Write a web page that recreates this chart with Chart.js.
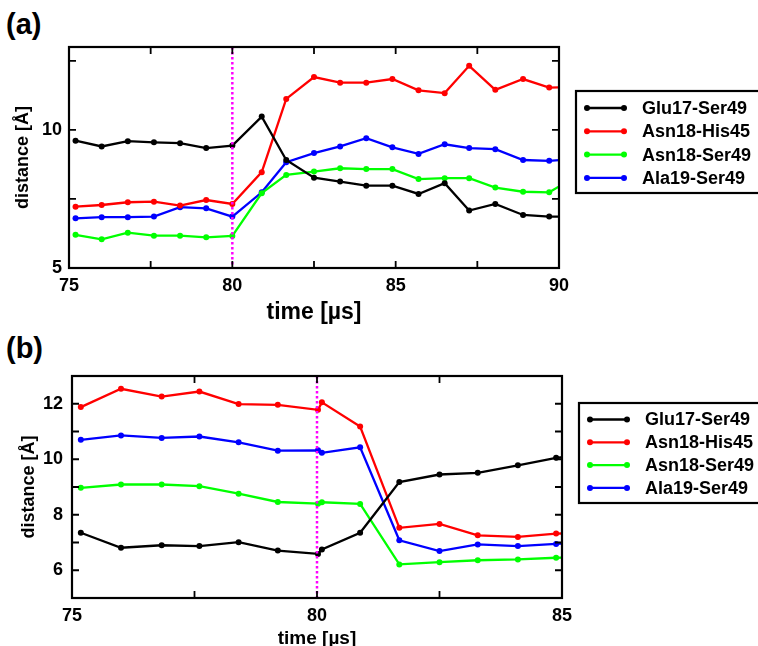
<!DOCTYPE html>
<html lang="en">
<head>
  <meta charset="UTF-8" />
  <title>Distance vs time</title>
  <style>
    html, body {
      margin: 0;
      padding: 0;
      background: white;
      overflow: hidden;
      width: 758px;
      height: 646px;
    }
    .panel {
      position: absolute;
      left: 0;
    }
    .tag {
      position: absolute;
      font-family: "Liberation Sans", Arial, sans-serif;
      font-weight: bold;
      font-size: 29px;
      color: #000;
    }
  </style>
  <script src="https://cdn.jsdelivr.net/npm/chart.js"></script>
</head>
<body>

<div class="tag" style="left:6px; top:8px;">(a)</div>
<div class="tag" style="left:6px; top:332px;">(b)</div>
<canvas id="chartA" class="panel" style="top:0px;" width="758" height="326"></canvas>
<canvas id="chartB" class="panel" style="top:326px;" width="758" height="326"></canvas>

<script>
  // panel (a)
  const timeA = [75.2, 76.0, 76.8, 77.6, 78.4, 79.2, 80.0, 80.9, 81.65, 82.5, 83.3, 84.1, 84.9, 85.7, 86.5, 87.25, 88.05, 88.9, 89.7, 90.5];
  const glu17Ser49A = [9.61, 9.40, 9.59, 9.55, 9.52, 9.34, 9.43, 10.48, 8.91, 8.27, 8.13, 7.98, 7.98, 7.68, 8.07, 7.08, 7.32, 6.92, 6.86, 6.85];
  const asn18His45A = [7.22, 7.28, 7.38, 7.40, 7.26, 7.46, 7.32, 8.47, 11.12, 11.91, 11.71, 11.71, 11.84, 11.43, 11.33, 12.32, 11.45, 11.84, 11.53, 11.55];
  const asn18Ser49A = [6.20, 6.04, 6.28, 6.17, 6.17, 6.11, 6.16, 7.71, 8.37, 8.49, 8.61, 8.58, 8.58, 8.22, 8.25, 8.25, 7.91, 7.76, 7.74, 8.30];
  const ala19Ser49A = [6.80, 6.84, 6.84, 6.86, 7.20, 7.16, 6.86, 7.74, 8.83, 9.16, 9.40, 9.70, 9.37, 9.13, 9.48, 9.34, 9.30, 8.91, 8.88, 8.95];

  // panel (b)
  const timeB = [75.18, 76.0, 76.83, 77.6, 78.4, 79.2, 80.02, 80.1, 80.88, 81.68, 82.5, 83.28, 84.1, 84.88, 85.7];
  const glu17Ser49B = [7.35, 6.81, 6.90, 6.87, 7.01, 6.71, 6.59, 6.75, 7.35, 9.18, 9.45, 9.51, 9.78, 10.05, 10.2];
  const asn18His45B = [11.88, 12.54, 12.26, 12.44, 11.99, 11.96, 11.78, 12.05, 11.18, 7.53, 7.67, 7.26, 7.20, 7.32, 7.35];
  const asn18Ser49B = [8.97, 9.09, 9.09, 9.03, 8.76, 8.46, 8.40, 8.45, 8.39, 6.21, 6.29, 6.36, 6.39, 6.45, 6.5];
  const ala19Ser49B = [10.70, 10.86, 10.77, 10.82, 10.61, 10.31, 10.32, 10.23, 10.43, 7.08, 6.69, 6.93, 6.87, 6.95, 7.0];

  const seriesNames = ['Glu17-Ser49', 'Asn18-His45', 'Asn18-Ser49', 'Ala19-Ser49'];
  const seriesColors = ['#000000', '#ff0000', '#00ff00', '#0000ff'];
  const markerTime = 80;

  Chart.defaults.font.family = '"Liberation Sans", Arial, sans-serif';
  Chart.defaults.font.weight = 'bold';
  Chart.defaults.color = '#000';

  function makeDatasets(times, lists) {
    return lists.map((vals, i) => ({
      label: seriesNames[i],
      data: vals.map((v, j) => ({ x: times[j], y: v })),
      borderColor: seriesColors[i],
      backgroundColor: seriesColors[i],
      borderWidth: 2.3,
      pointRadius: 3,
      pointBorderWidth: 0,
      tension: 0
    }));
  }

  // frame with inward ticks on all four sides
  const frameTicks = {
    id: 'frameTicks',
    afterDraw(chart) {
      const { ctx, chartArea: a, scales: { x, y } } = chart;
      const len = 7;
      ctx.save();
      ctx.strokeStyle = '#000';
      ctx.lineWidth = 1.8;
      x.ticks.forEach(t => {
        const px = x.getPixelForValue(t.value);
        if (px <= a.left + 1 || px >= a.right - 1) return;
        ctx.beginPath();
        ctx.moveTo(px, a.bottom); ctx.lineTo(px, a.bottom - len);
        ctx.moveTo(px, a.top); ctx.lineTo(px, a.top + len);
        ctx.stroke();
      });
      y.ticks.forEach(t => {
        const py = y.getPixelForValue(t.value);
        if (py <= a.top + 1 || py >= a.bottom - 1) return;
        ctx.beginPath();
        ctx.moveTo(a.left, py); ctx.lineTo(a.left + len, py);
        ctx.moveTo(a.right, py); ctx.lineTo(a.right - len, py);
        ctx.stroke();
      });
      ctx.lineWidth = 2.2;
      ctx.strokeRect(a.left, a.top, a.width, a.height);
      ctx.restore();
    }
  };

  // dotted magenta marker line
  const markerLine = {
    id: 'markerLine',
    afterDatasetsDraw(chart) {
      const { ctx, chartArea: a, scales: { x } } = chart;
      const px = x.getPixelForValue(markerTime);
      ctx.save();
      ctx.strokeStyle = '#ff00ff';
      ctx.lineWidth = 2.5;
      ctx.setLineDash([2.5, 2.5]);
      ctx.beginPath();
      ctx.moveTo(px, a.top);
      ctx.lineTo(px, a.bottom);
      ctx.stroke();
      ctx.restore();
    }
  };

  // boxed legend outside the plot
  const boxLegend = {
    id: 'boxLegend',
    afterDraw(chart, args, opts) {
      const ctx = chart.ctx;
      ctx.save();
      ctx.strokeStyle = '#000';
      ctx.lineWidth = 2.2;
      ctx.strokeRect(opts.left, opts.top, opts.width, opts.height);
      ctx.font = 'bold 18px "Liberation Sans", Arial, sans-serif';
      ctx.textBaseline = 'middle';
      chart.data.datasets.forEach((ds, i) => {
        const yy = opts.firstRow + i * opts.rowStep;
        ctx.strokeStyle = ds.borderColor;
        ctx.fillStyle = ds.borderColor;
        ctx.lineWidth = 2.3;
        ctx.beginPath();
        ctx.moveTo(opts.lineFrom, yy);
        ctx.lineTo(opts.lineTo, yy);
        ctx.stroke();
        [opts.lineFrom, opts.lineTo].forEach(px => {
          ctx.beginPath();
          ctx.arc(px, yy, 3, 0, Math.PI * 2);
          ctx.fill();
        });
        ctx.fillStyle = '#000';
        ctx.fillText(ds.label, opts.textX, yy + 1);
      });
      ctx.restore();
    }
  };

  function makeChart(id, times, lists, cfg) {
    return new Chart(document.getElementById(id), {
      type: 'line',
      data: { datasets: makeDatasets(times, lists) },
      plugins: [markerLine, frameTicks, boxLegend],
      options: {
        responsive: false,
        animation: false,
        events: [],
        layout: { padding: cfg.padding },
        plugins: {
          legend: { display: false },
          tooltip: { enabled: false },
          boxLegend: cfg.legend
        },
        scales: {
          x: {
            type: 'linear',
            min: cfg.xMin,
            max: cfg.xMax,
            grid: { display: false, drawTicks: false },
            border: { display: false },
            afterFit: s => { s.height = cfg.xHeight; },
            ticks: {
              stepSize: 2.5,
              includeBounds: false,
              autoSkip: false,
              maxRotation: 0,
              padding: 7,
              font: { size: 18, weight: 'bold' },
              callback: v => (v % 5 === 0 ? v : '')
            },
            title: {
              display: true,
              text: 'time [µs]',
              font: { size: cfg.xTitleSize, weight: 'bold' },
              padding: { top: 0, bottom: 0 }
            }
          },
          y: {
            type: 'linear',
            min: 5,
            max: 13,
            grid: { display: false, drawTicks: false },
            border: { display: false },
            afterFit: s => { s.width = cfg.yWidth; },
            ticks: {
              stepSize: cfg.yStep,
              includeBounds: false,
              autoSkip: false,
              padding: cfg.yTickPad,
              font: { size: 18, weight: 'bold' },
              callback: v => (cfg.yLabel(v) ? v : '')
            },
            title: {
              display: true,
              text: 'distance [Å]',
              font: { size: 18, weight: 'bold' },
              padding: { top: 0, bottom: 0 }
            }
          }
        }
      }
    });
  }

  makeChart('chartA', timeA, [glu17Ser49A, asn18His45A, asn18Ser49A, ala19Ser49A], {
    xMin: 75, xMax: 90,
    yStep: 2.5,
    yLabel: v => v % 5 === 0,
    yTickPad: 7,
    padding: { left: 12, right: 199, top: 47, bottom: 0 },
    yWidth: 57,
    xHeight: 58,
    xTitleSize: 23,
    legend: { left: 576, top: 91, width: 190, height: 102, firstRow: 108, rowStep: 23.3, lineFrom: 587, lineTo: 624, textX: 642 }
  });

  makeChart('chartB', timeB, [glu17Ser49B, asn18His45B, asn18Ser49B, ala19Ser49B], {
    xMin: 75, xMax: 85,
    yStep: 1,
    yLabel: v => v % 2 === 0 && v > 5,
    yTickPad: 9,
    padding: { left: 18, right: 196, top: 50, bottom: 2 },
    yWidth: 54,
    xHeight: 52,
    xTitleSize: 19,
    legend: { left: 579, top: 77, width: 190, height: 100, firstRow: 93.5, rowStep: 22.8, lineFrom: 590, lineTo: 627, textX: 645 }
  });
</script>

</body>
</html>
